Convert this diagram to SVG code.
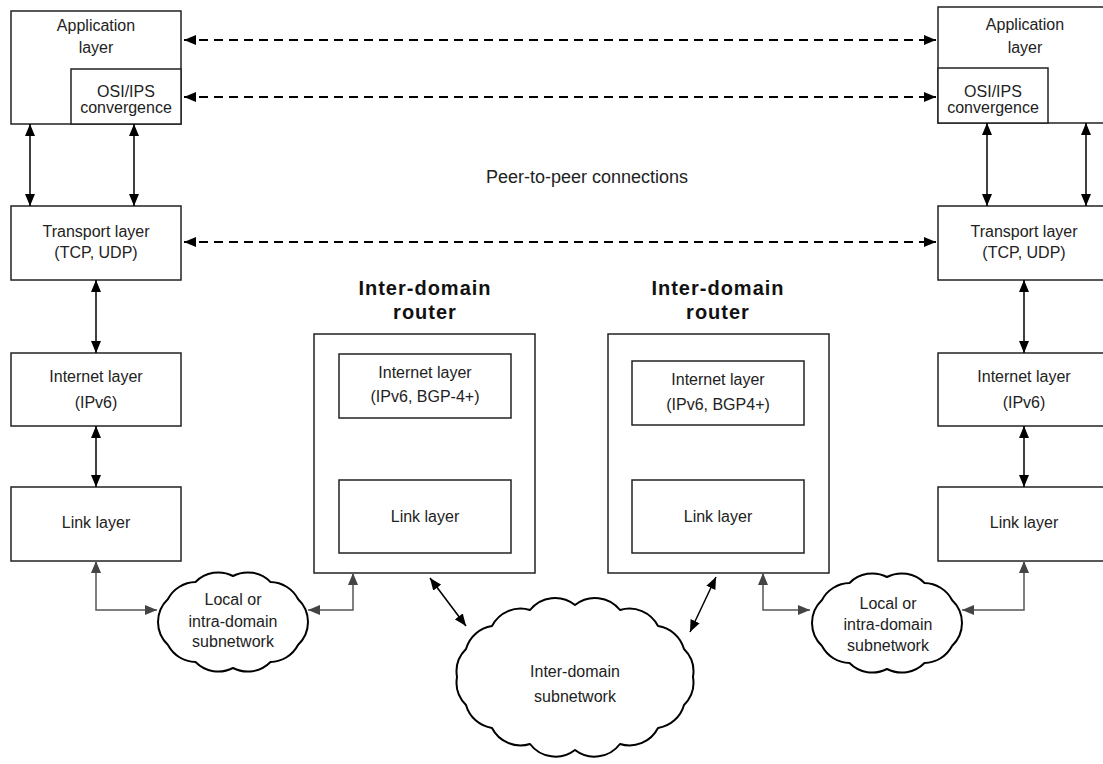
<svg xmlns="http://www.w3.org/2000/svg" width="1103" height="764" viewBox="0 0 1103 764">
  <style>
    .box { fill: #fff; stroke: #222; stroke-width: 1.5; }
    .cloud { fill: #fff; stroke: #000; stroke-width: 2; stroke-linejoin: round; }
    text { font-family: "Liberation Sans", Arial, sans-serif; font-size: 16px; fill: #222; text-anchor: middle; }
    .title { font-size: 20px; font-weight: bold; letter-spacing: 1px; fill: #111; }
    .big { font-size: 18px; }
    .link { fill: none; stroke: #000; stroke-width: 1.5; marker-start: url(#ah); marker-end: url(#ah); }
    .dash { fill: none; stroke: #000; stroke-width: 2; stroke-dasharray: 9 6; marker-start: url(#ah); marker-end: url(#ah); }
    .sub { fill: none; stroke: #555; stroke-width: 1.5; marker-start: url(#ahg); marker-end: url(#ahg); }
  </style>
  <defs>
    <marker id="ah" viewBox="0 0 12 10" refX="12" refY="5" markerWidth="12" markerHeight="10" markerUnits="userSpaceOnUse" orient="auto-start-reverse">
      <path d="M0,0 L12,5 L0,10 z" fill="#000"/>
    </marker>
    <marker id="ahg" viewBox="0 0 12 10" refX="12" refY="5" markerWidth="12" markerHeight="10" markerUnits="userSpaceOnUse" orient="auto-start-reverse">
      <path d="M0,0 L12,5 L0,10 z" fill="#444"/>
    </marker>
  </defs>

  <rect width="1103" height="764" fill="#fff"/>

  <!-- left host stack -->
  <g id="left-app">
    <rect class="box" x="11" y="11" width="170" height="113"/>
    <text x="96" y="31">Application</text>
    <text x="96" y="53">layer</text>
  </g>
  <g id="left-osi">
    <rect class="box" x="71" y="69" width="110" height="55"/>
    <text x="126" y="97">OSI/IPS</text>
    <text x="126" y="113">convergence</text>
  </g>
  <g id="left-transport">
    <rect class="box" x="11" y="206" width="170" height="74"/>
    <text x="96" y="237">Transport layer</text>
    <text x="96" y="258">(TCP, UDP)</text>
  </g>
  <g id="left-internet">
    <rect class="box" x="11" y="353" width="170" height="73"/>
    <text x="96" y="382">Internet layer</text>
    <text x="96" y="408">(IPv6)</text>
  </g>
  <g id="left-link">
    <rect class="box" x="11" y="487" width="170" height="74"/>
    <text x="96" y="528">Link layer</text>
  </g>

  <!-- right host stack (runs off the right edge) -->
  <g id="right-app">
    <rect class="box" x="938" y="7" width="170" height="116"/>
    <text x="1025" y="30">Application</text>
    <text x="1025" y="53">layer</text>
  </g>
  <g id="right-osi">
    <rect class="box" x="938" y="68" width="110" height="55"/>
    <text x="993" y="97">OSI/IPS</text>
    <text x="993" y="113">convergence</text>
  </g>
  <g id="right-transport">
    <rect class="box" x="938" y="206" width="170" height="74"/>
    <text x="1024" y="237">Transport layer</text>
    <text x="1024" y="258">(TCP, UDP)</text>
  </g>
  <g id="right-internet">
    <rect class="box" x="938" y="353" width="170" height="73"/>
    <text x="1024" y="382">Internet layer</text>
    <text x="1024" y="408">(IPv6)</text>
  </g>
  <g id="right-link">
    <rect class="box" x="938" y="487" width="170" height="74"/>
    <text x="1024" y="528">Link layer</text>
  </g>

  <!-- inter-domain routers -->
  <g id="router-1">
    <text class="title" x="425" y="295">Inter-domain</text>
    <text class="title" x="425" y="319">router</text>
    <rect class="box" x="314" y="334" width="221" height="239"/>
    <rect class="box" x="339" y="354" width="172" height="64"/>
    <text x="425" y="378">Internet layer</text>
    <text x="425" y="402">(IPv6, BGP-4+)</text>
    <rect class="box" x="339" y="480" width="172" height="73"/>
    <text x="425" y="522">Link layer</text>
  </g>
  <g id="router-2">
    <text class="title" x="718" y="295">Inter-domain</text>
    <text class="title" x="718" y="319">router</text>
    <rect class="box" x="608" y="334" width="221" height="239"/>
    <rect class="box" x="632" y="361" width="172" height="64"/>
    <text x="718" y="385">Internet layer</text>
    <text x="718" y="410">(IPv6, BGP4+)</text>
    <rect class="box" x="632" y="480" width="172" height="73"/>
    <text x="718" y="522">Link layer</text>
  </g>

  <!-- subnetwork clouds -->
  <g id="cloud-left">
    <path class="cloud" d="M233,576 A32,32 0 0 1 270.5,582 A32,32 0 0 1 298,599 A32,32 0 0 1 308,622 A32,32 0 0 1 298,645 A32,32 0 0 1 270.5,662 A32,32 0 0 1 233,668 A32,32 0 0 1 195.5,662 A32,32 0 0 1 168,645 A32,32 0 0 1 158,622 A32,32 0 0 1 168,599 A32,32 0 0 1 195.5,582 A32,32 0 0 1 233,576 Z"/>
    <text x="233" y="605">Local or</text>
    <text x="233" y="627">intra-domain</text>
    <text x="233" y="647">subnetwork</text>
  </g>
  <g id="cloud-middle">
    <path class="cloud" d="M575,605 A32,32 0 0 1 620,610 A32,32 0 0 1 658,626 A32,32 0 0 1 684,649 A32,32 0 0 1 693,677 A32,32 0 0 1 684,705 A32,32 0 0 1 658,728 A32,32 0 0 1 620,744 A32,32 0 0 1 575,750 A32,32 0 0 1 530,744 A32,32 0 0 1 492,728 A32,32 0 0 1 466,705 A32,32 0 0 1 457,677 A32,32 0 0 1 466,649 A32,32 0 0 1 492,626 A32,32 0 0 1 530,610 A32,32 0 0 1 575,605 Z"/>
    <text x="575" y="677">Inter-domain</text>
    <text x="575" y="702">subnetwork</text>
  </g>
  <g id="cloud-right">
    <path class="cloud" d="M887,577 A32,32 0 0 1 924.5,583 A32,32 0 0 1 952,600 A32,32 0 0 1 962,623 A32,32 0 0 1 952,646 A32,32 0 0 1 924.5,663 A32,32 0 0 1 887,669 A32,32 0 0 1 849.5,663 A32,32 0 0 1 822,646 A32,32 0 0 1 812,623 A32,32 0 0 1 822,600 A32,32 0 0 1 849.5,583 A32,32 0 0 1 887,577 Z"/>
    <text x="888" y="609">Local or</text>
    <text x="888" y="630">intra-domain</text>
    <text x="888" y="651">subnetwork</text>
  </g>

  <text class="big" x="587" y="183">Peer-to-peer connections</text>

  <!-- connectors -->
  <g id="connectors">
    <!-- peer-to-peer -->
    <path class="dash" d="M184,40 H936"/>
    <path class="dash" d="M184,97 H936"/>
    <path class="dash" d="M184,242 H936"/>
    <!-- left stack -->
    <path class="link" d="M30,124 V206"/>
    <path class="link" d="M134,124 V206"/>
    <path class="link" d="M96,280 V353"/>
    <path class="link" d="M96,426 V487"/>
    <!-- right stack -->
    <path class="link" d="M987,123 V206"/>
    <path class="link" d="M1086,123 V206"/>
    <path class="link" d="M1024,280 V353"/>
    <path class="link" d="M1024,426 V487"/>
    <!-- routers to inter-domain subnetwork -->
    <path class="link" d="M430,578 L466,626"/>
    <path class="link" d="M716,577 L690,632"/>
    <!-- hosts and routers to local subnetworks -->
    <path class="sub" d="M96,561 V610 H157"/>
    <path class="sub" d="M353,573 V610 H308"/>
    <path class="sub" d="M763,573 V610 H810"/>
    <path class="sub" d="M1024,561 V610 H962"/>
  </g>
</svg>
